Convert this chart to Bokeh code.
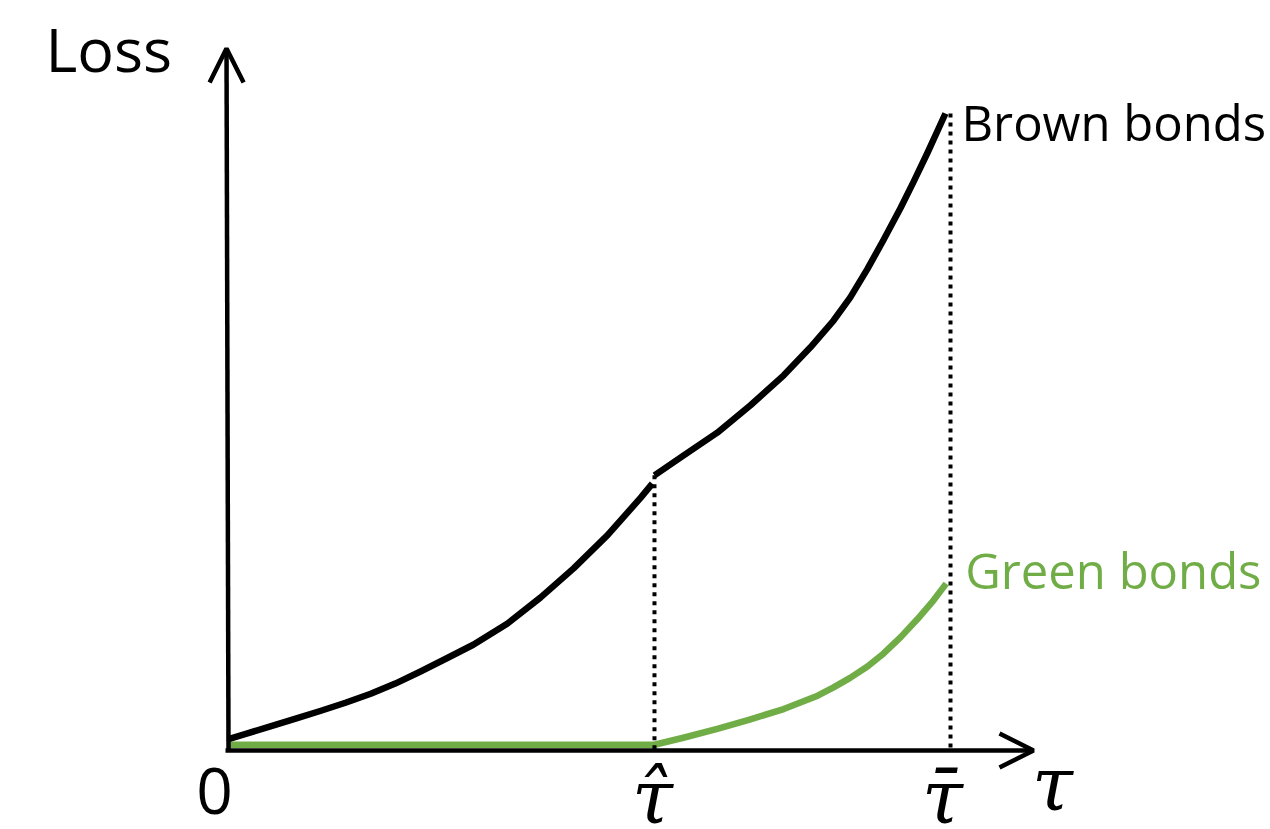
from bokeh.plotting import figure
from bokeh.models import Range1d, Arrow, OpenHead
from bokeh.core.properties import value
from bokeh.embed import file_html
from bokeh.resources import INLINE

# Tax levels on the horizontal axis (tau_bar normalised to 100)
tau_hat = 59.0
tau_bar = 100.0

# Loss of brown bonds below the threshold tau_hat
brown_low_tau = [0.0, 2.4, 5.8, 9.3, 12.7, 16.2, 19.7, 23.1, 26.6, 30.1, 33.9,
                 38.6, 43.2, 47.8, 52.5, 57.1, 58.7]
brown_low_loss = [1.8, 2.6, 3.8, 5.0, 6.2, 7.5, 8.9, 10.5, 12.4, 14.4, 16.6,
                  19.9, 24.0, 28.6, 33.8, 39.7, 41.9]

# Loss of brown bonds above the threshold (jumps at tau_hat)
brown_high_tau = [59.0, 63.0, 67.7, 72.3, 76.9, 80.6, 83.8, 86.1, 88.5, 90.7,
                  93.1, 94.9, 96.8, 99.3]
brown_high_loss = [43.2, 46.3, 49.9, 54.2, 58.9, 63.3, 67.5, 71.1, 75.6, 80.1,
                   85.2, 89.3, 93.8, 100.0]

# Loss of green bonds: flat until tau_hat, then rising
green_tau = [0.0, 59.0, 63.0, 67.7, 72.3, 76.9, 81.6, 83.8, 86.1, 88.5, 90.7,
             93.1, 95.4, 97.6, 99.4]
green_loss = [0.9, 0.9, 2.0, 3.4, 4.9, 6.5, 8.6, 9.9, 11.4, 13.2, 15.2,
              17.8, 20.6, 23.5, 26.2]

# Tick labels on the tau axis
tick_labels = ["0", "\u03c4\u0302", "\u03c4\u0304"]
axis_x_label = "\u03c4"
axis_y_label = "Loss"
series_labels = ["Brown bonds", "Green bonds"]

BROWN = "#000000"
GREEN = "#70AD47"

# page pixels per data unit
SX = 7.22
SY = 6.37
W, H = 1270, 829
X_ORIGIN_PX, Y_ORIGIN_PX = 228, 750

p = figure(
    width=W, height=H,
    x_range=Range1d(-X_ORIGIN_PX / SX, (W - X_ORIGIN_PX) / SX),
    y_range=Range1d(-(H - Y_ORIGIN_PX) / SY, Y_ORIGIN_PX / SY),
    output_backend="svg", toolbar_location=None, min_border=0,
)
p.axis.visible = False
p.grid.visible = False
p.outline_line_color = None
p.background_fill_color = "white"
p.border_fill_color = "white"


def dx(px):
    return px / SX


def dy(px):
    return px / SY


def base(px_below_origin, size):
    # data y that puts the text baseline the given pixels below the tau axis
    return -dy(px_below_origin - 0.43 * size)


# axes with open arrow heads
p.add_layout(Arrow(end=OpenHead(size=34, line_width=4.5, line_color="black"),
                   x_start=dx(-3), y_start=0, x_end=dx(805), y_end=0,
                   line_width=4.5, line_color="black"))
p.add_layout(Arrow(end=OpenHead(size=34, line_width=4.5, line_color="black"),
                   x_start=0, y_start=0, x_end=dx(-2), y_end=dy(702),
                   line_width=4.5, line_color="black"))

# loss curves
p.line(green_tau, green_loss, line_color=GREEN, line_width=6.5, line_join="round")
p.line(brown_low_tau, brown_low_loss, line_color=BROWN, line_width=6.5, line_join="round")
p.line(brown_high_tau, brown_high_loss, line_color=BROWN, line_width=6.5, line_join="round")

# dotted guides from the curves down to the tau axis
p.segment(x0=[tau_hat, tau_bar], y0=[brown_high_loss[0], brown_high_loss[-1]],
          x1=[tau_hat, tau_bar], y1=[0, 0],
          line_color="black", line_width=4, line_dash="4 5")

# series labels at the right end of each curve
LBL = 49
p.text(x=[brown_high_tau[-1] + dx(16), green_tau[-1] + dx(19)],
       y=[brown_high_loss[-1] - dy(30 - 0.43 * LBL), green_loss[-1] - dy(7 - 0.43 * LBL)],
       text=series_labels, text_color=[BROWN, GREEN],
       text_font=value("Open Sans"), text_font_size=f"{LBL}px",
       text_align="left", text_baseline="alphabetic")

# axis titles
p.text(x=[-dx(183)], y=[base(-676, 61)], text=[axis_y_label],
       text_font=value("Open Sans"), text_font_size="61px",
       text_align="left", text_baseline="alphabetic", text_color="black")
p.text(x=[dx(824)], y=[base(65, 74)], text=[axis_x_label],
       text_font=value("DejaVu Serif"), text_font_style="italic", text_font_size="74px",
       text_align="center", text_baseline="alphabetic", text_color="black")

# tick labels
p.text(x=[-dx(14)], y=[base(68, 64)], text=[tick_labels[0]],
       text_font=value("Open Sans"), text_font_size="64px",
       text_align="center", text_baseline="alphabetic", text_color="black")
p.text(x=[tau_hat - dx(2), tau_bar - dx(8)], y=[base(78, 74), base(78, 74)],
       text=tick_labels[1:],
       text_font=value("DejaVu Serif"), text_font_style="italic", text_font_size="74px",
       text_align="center", text_baseline="alphabetic", text_color="black")

open("out.html", "w").write(file_html(p, INLINE))
